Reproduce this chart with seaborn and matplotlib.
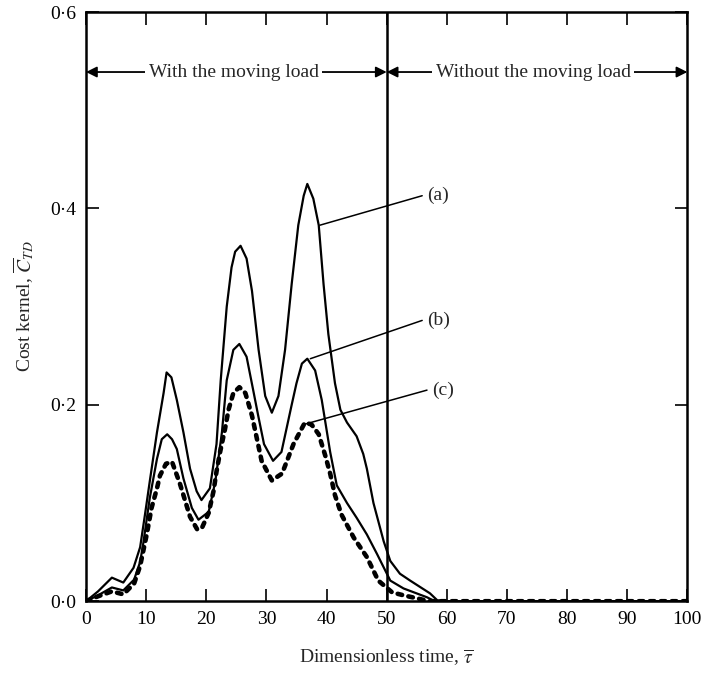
import numpy as np
import pandas as pd
import matplotlib
matplotlib.use("Agg")
import matplotlib.pyplot as plt
import seaborn as sns

# ---- data ----
xa = [0, 2, 4.3, 6.2, 7.9, 9.0, 9.8, 10.6, 11.8, 12.9, 13.4, 14.2, 15.1, 16.2, 17.3, 18.4, 19.2,
      20.6, 21.7, 22.4, 23.4, 24.2, 24.8, 25.7, 26.7, 27.6, 28.7, 29.8, 30.9, 32.0, 33.1, 34.2,
      35.3, 36.2, 36.8, 37.8, 38.7, 39.5, 40.3, 41.4, 42.3, 43.4, 45.0, 46.1, 46.7, 47.8, 49.5,
      50.6, 52.2, 53.9, 57.2, 58.4, 60, 100]
ya = [0, 0.010, 0.024, 0.019, 0.034, 0.055, 0.088, 0.122, 0.172, 0.212, 0.233, 0.228, 0.205,
      0.172, 0.135, 0.112, 0.103, 0.115, 0.160, 0.225, 0.300, 0.340, 0.356, 0.362, 0.349, 0.316,
      0.256, 0.209, 0.192, 0.209, 0.256, 0.323, 0.383, 0.413, 0.425, 0.410, 0.383, 0.323, 0.272,
      0.222, 0.195, 0.182, 0.168, 0.150, 0.135, 0.100, 0.061, 0.041, 0.028, 0.021, 0.008, 0.001,
      0, 0]

xb = [0, 2, 4.3, 6.2, 8.0, 9.0, 9.5, 10.6, 11.8, 12.6, 13.5, 14.3, 15.1, 16.2, 17.6, 18.7, 20.4,
      21.5, 22.6, 23.4, 24.5, 25.5, 26.7, 27.8, 28.6, 29.6, 31.1, 32.5, 34.2, 35.0, 35.9, 36.8,
      38.1, 39.2, 40.6, 41.7, 43.4, 45.0, 46.7, 48.4, 50.6, 52.8, 56.7, 58, 100]
yb = [0, 0.006, 0.014, 0.011, 0.022, 0.040, 0.058, 0.105, 0.145, 0.165, 0.170, 0.165, 0.155,
      0.125, 0.095, 0.083, 0.091, 0.122, 0.172, 0.225, 0.256, 0.262, 0.249, 0.215, 0.190, 0.160,
      0.143, 0.152, 0.200, 0.222, 0.242, 0.247, 0.235, 0.205, 0.152, 0.118, 0.100, 0.085, 0.068,
      0.048, 0.021, 0.013, 0.004, 0, 0]

xc = [0, 2, 4.3, 6.2, 8.0, 9.0, 10.1, 10.9, 11.8, 12.3, 13.3, 14.3, 15.6, 16.2, 17.3, 18.5, 19.3,
      20.4, 21.2, 21.7, 22.3, 23.1, 23.7, 24.5, 25.5, 26.5, 27.6, 29.2, 30.9, 32.6, 34.5, 36.4,
      37.5, 38.7, 39.8, 40.6, 41.4, 42.5, 44.5, 46.7, 48.6, 50.9, 52.8, 55, 57, 100]
yc = [0, 0.005, 0.010, 0.007, 0.018, 0.036, 0.068, 0.095, 0.115, 0.128, 0.140, 0.142, 0.120,
      0.108, 0.086, 0.073, 0.075, 0.090, 0.112, 0.132, 0.152, 0.175, 0.195, 0.212, 0.218, 0.212,
      0.189, 0.143, 0.123, 0.130, 0.160, 0.182, 0.180, 0.170, 0.148, 0.130, 0.108, 0.088, 0.065,
      0.045, 0.021, 0.009, 0.006, 0.003, 0, 0]

curve_labels = ["(a)", "(b)", "(c)"]
x_ticks = [0, 10, 20, 30, 40, 50, 60, 70, 80, 90, 100]
y_ticks = [0.0, 0.2, 0.4, 0.6]
y_tick_labels = ["0·0", "0·2", "0·4", "0·6"]
region_labels = ["With the moving load", "Without the moving load"]

# ---- styling ----
sns.set_theme(style="ticks")
plt.rcParams["font.family"] = ["Liberation Serif", "DejaVu Serif"]
plt.rcParams["mathtext.fontset"] = "stix"

fig = plt.figure(figsize=(7.05, 6.74), dpi=100)
ax = fig.add_axes([0.122, 0.108, 0.853, 0.874])

df_a = pd.DataFrame({"t": xa, "c": ya})
df_b = pd.DataFrame({"t": xb, "c": yb})
df_c = pd.DataFrame({"t": xc, "c": yc})

sns.lineplot(data=df_a, x="t", y="c", ax=ax, color="black", lw=1.6, sort=False)
sns.lineplot(data=df_b, x="t", y="c", ax=ax, color="black", lw=1.6, sort=False)
sns.lineplot(data=df_c, x="t", y="c", ax=ax, color="black", lw=3.3, sort=False,
             linestyle=(0, (1.0, 1.4)), dash_capstyle="round")

ax.set_xlim(0, 100)
ax.set_ylim(0, 0.6)
ax.axvline(50, color="black", lw=1.8)

ax.set_xticks(x_ticks)
ax.set_xticklabels([str(v) for v in x_ticks])
ax.set_yticks(y_ticks)
ax.set_yticklabels(y_tick_labels)
ax.tick_params(direction="in", length=9, width=1.2, top=True, right=True,
               labelsize=14, colors="black", pad=7)
for s in ax.spines.values():
    s.set_linewidth(1.8)
    s.set_color("black")

ax.set_xlabel(r"Dimensionless time, $\overline{\tau}$", fontsize=14, labelpad=14)
ax.set_ylabel(r"Cost kernel, $\overline{C}_{TD}$", fontsize=14, labelpad=10)

# region arrows
yarr = 0.539
ap = dict(arrowstyle="<|-|>", color="black", lw=1.3, mutation_scale=16,
          shrinkA=0, shrinkB=0)
ax.annotate("", xy=(0, yarr), xytext=(50, yarr), arrowprops=ap)
ax.annotate("", xy=(50, yarr), xytext=(100, yarr), arrowprops=ap)
ax.text(24.6, yarr, region_labels[0], ha="center", va="center", fontsize=14,
        bbox=dict(facecolor="white", edgecolor="none", pad=2.5))
ax.text(74.4, yarr, region_labels[1], ha="center", va="center", fontsize=14,
        bbox=dict(facecolor="white", edgecolor="none", pad=2.5))

# curve labels with leader lines
starts = [(38.9, 0.383), (37.3, 0.247), (36.2, 0.180)]
ends = [(55.9, 0.413), (55.9, 0.286), (56.7, 0.215)]
for lab, (x0, y0), (x1, y1) in zip(curve_labels, starts, ends):
    ax.plot([x0, x1], [y0, y1], color="black", lw=1.1)
    ax.text(x1 + 0.8, y1, lab, ha="left", va="center", fontsize=14)

fig.savefig("out.png", dpi=100)
